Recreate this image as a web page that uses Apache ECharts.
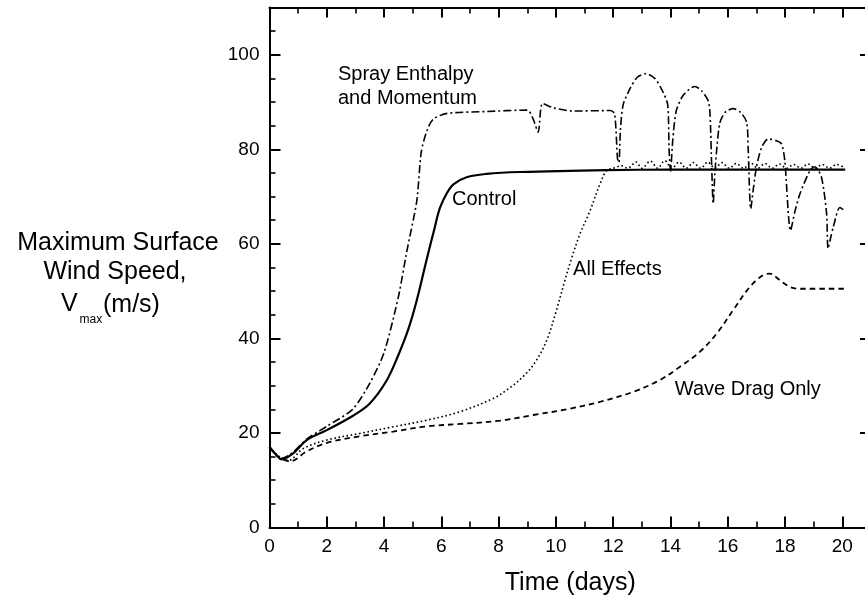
<!DOCTYPE html>
<html>
<head>
<meta charset="utf-8">
<script src="https://cdn.jsdelivr.net/npm/echarts@6/dist/echarts.min.js"></script>
<style>html,body{margin:0;padding:0;background:#fff}#c{width:865px;height:600px}</style>
</head>
<body>
<div id="c"></div>
<script>
// Data: [time (days), Vmax (m/s)]
const controlData = [[0,17.1],[0.2,15.6],[0.43,14.4],[0.83,15.7],[1.3,18.5],[2,20.6],[2.93,23.7],[3.51,26.3],[4.09,31.1],[4.5,36.5],[4.85,42],[5.14,48],[5.5,57],[5.75,63],[5.95,67.6],[6.2,70.8],[6.42,72.6],[6.88,74.1],[7.58,74.8],[8.74,75.2],[11.77,75.6],[14,75.7],[20.1,75.7]];
const sprayData = [[0,17],[0.4,14.6],[0.8,15.8],[1.3,18.7],[2,21.4],[2.9,25],[3.5,30.5],[4,37],[4.5,48.8],[4.8,58.6],[5.14,69],[5.3,79.5],[5.5,84],[5.72,86.4],[6.2,87.6],[7.6,88],[9,88.3],[9.2,86.5],[9.38,83.6],[9.53,89.7],[9.9,88.8],[10.6,88.1],[11.9,88.2],[12.05,87.5],[12.15,78],[12.2,77.2],[12.25,84],[12.35,89.5],[12.6,93],[12.85,95.3],[13.14,96],[13.45,95],[13.7,92.6],[13.9,89.5],[13.95,80],[14.0,75.4],[14.08,82],[14.2,88.1],[14.45,91.5],[14.85,93.3],[15.1,92.3],[15.32,90.2],[15.38,87.5],[15.44,76],[15.49,68.5],[15.55,75],[15.62,80.4],[15.72,85.5],[15.9,87.8],[16.19,88.6],[16.45,87.8],[16.66,85.7],[16.71,80.4],[16.8,67.4],[16.9,72],[17.0,76.2],[17.18,80.4],[17.41,82.2],[17.7,81.8],[17.88,81.1],[17.99,77.6],[18.19,62.8],[18.35,67],[18.52,70.6],[18.87,75.5],[19.04,76.3],[19.27,74.1],[19.45,66.4],[19.5,59],[19.6,61.5],[19.68,63.5],[19.91,67.7],[20.09,67]];
const allEffectsData = [[0,17],[0.3,15.2],[0.66,14.2],[1.18,16.7],[2,18.5],[3.16,19.9],[4.32,21.3],[5.49,22.7],[6.65,24.5],[7.81,27.3],[8.4,29.6],[8.9,32.2],[9.3,35.2],[9.68,39.6],[10.02,46],[10.3,52],[10.55,57],[10.84,62.1],[11.19,67],[11.54,72.7],[11.77,75.5],[12,76],[12.3,76.5],[12.5,76],[12.8,77.3],[13.0,76],[13.3,77.5],[13.55,76],[13.8,77.6],[14.05,76],[14.3,77.3],[14.55,76],[14.8,77.2],[15.05,76],[15.3,77.3],[15.55,76],[15.8,77.2],[16.05,76],[16.3,77],[16.55,76],[16.8,77.1],[17.05,76],[17.3,77],[17.55,76],[17.8,76.9],[18.05,76],[18.3,76.8],[18.55,76],[18.8,76.9],[19.05,76],[19.3,76.8],[19.55,76],[19.8,76.8],[20.05,76.2]];
const waveDragData = [[0,17],[0.3,15],[0.72,14],[1.3,16.1],[2,17.9],[3.16,19.3],[4.32,20.3],[5.49,21.4],[6.65,21.9],[8.05,22.6],[9.21,23.8],[10.37,25],[11.54,26.6],[12.7,28.7],[13.63,31.2],[14.33,34],[15.03,37.2],[15.61,41],[16.19,46],[16.77,50.9],[17.23,53.4],[17.47,53.7],[17.82,52.3],[18.17,50.9],[18.52,50.5],[20.1,50.5]];
// Curve annotations: [x, y, text] in data coordinates (left edge, vertical middle)
const annotations = [[2.39,93.3,'Spray Enthalpy\nand Momentum'],[6.37,69.3,'Control'],[10.6,54.5,'All Effects'],[14.15,29.2,'Wave Drag Only']];
const xMin = 0, xMax = 21, xStep = 2;
const yMin = 0, yMax = 110, yStep = 20;
const xTitle = 'Time (days)';
const yTitleLines = ['Maximum Surface', 'Wind Speed,'];

const FONT = 'Liberation Sans, Arial, sans-serif';
const chart = echarts.init(document.getElementById('c'), null, {renderer: 'canvas'});
function axisCommon(showLabel, tickLen, minorLen, minorSplit) {
  return {
    type: 'value',
    axisLine: {show: true, onZero: false, lineStyle: {color: '#000', width: 2}},
    axisTick: {show: true, inside: true, length: tickLen, lineStyle: {color: '#000', width: 2}},
    minorTick: {show: true, splitNumber: minorSplit, length: minorLen, lineStyle: {color: '#000', width: 1.6}},
    splitLine: {show: false},
    axisLabel: {show: showLabel, color: '#000', fontSize: 19, fontFamily: FONT, margin: 10, showMaxLabel: false}
  };
}
const option = {
  animation: false,
  backgroundColor: '#fff',
  grid: {left: 269.5, top: 7.5, width: 601.5, bottom: 72.5, containLabel: false, outerBoundsMode: 'none'},
  xAxis: [
    Object.assign(axisCommon(true, 11, 6, 2), {position: 'bottom', min: xMin, max: xMax, interval: xStep,
      name: xTitle, nameLocation: 'middle', nameGap: 43,
      nameTextStyle: {color: '#000', fontSize: 25, fontFamily: FONT}}),
    Object.assign(axisCommon(false, 10, 6, 2), {position: 'top', min: xMin, max: xMax, interval: xStep})
  ],
  yAxis: [
    Object.assign(axisCommon(true, 11, 6, 4), {position: 'left', min: yMin, max: yMax, interval: yStep}),
    Object.assign(axisCommon(false, 11, 6, 4), {position: 'right', min: yMin, max: yMax, interval: yStep})
  ],
  graphic: [
    {type: 'text', x: 118, y: 243.5, style: {text: yTitleLines[0], font: '25px ' + FONT, fill: '#000', align: 'center', verticalAlign: 'middle'}},
    {type: 'text', x: 115, y: 272, style: {text: yTitleLines[1], font: '25px ' + FONT, fill: '#000', align: 'center', verticalAlign: 'middle'}},
    {type: 'text', x: 61, y: 304.5, style: {text: 'V', font: '25px ' + FONT, fill: '#000', align: 'left', verticalAlign: 'middle'}},
    {type: 'text', x: 79.5, y: 319.5, style: {text: 'max', font: '12px ' + FONT, fill: '#000', align: 'left', verticalAlign: 'middle'}},
    {type: 'text', x: 103, y: 305, style: {text: '(m/s)', font: '25px ' + FONT, fill: '#000', align: 'left', verticalAlign: 'middle'}}
  ],
  series: [
    {type: 'line', name: 'Control', data: controlData, showSymbol: false, smooth: 0.35, lineStyle: {color: '#000', width: 2.2, type: 'solid'}, z: 5},
    {type: 'line', name: 'Spray Enthalpy and Momentum', data: sprayData, showSymbol: false, smooth: 0.25, lineStyle: {color: '#000', width: 1.6, type: [8, 3, 2, 3]}},
    {type: 'line', name: 'All Effects', data: allEffectsData, showSymbol: false, smooth: 0.35, lineStyle: {color: '#000', width: 1.6, type: [1.6, 2.6]}},
    {type: 'line', name: 'Wave Drag Only', data: waveDragData, showSymbol: false, smooth: 0.35, lineStyle: {color: '#000', width: 1.8, type: [5.5, 4]}},
    {type: 'scatter', name: 'labels', data: annotations.map(a => ({value: [a[0], a[1]], name: a[2]})),
      symbolSize: 0, silent: true, itemStyle: {opacity: 1, color: '#000'},
      label: {show: true, position: 'right', distance: 0, formatter: p => p.name, color: '#000', fontSize: 20, fontFamily: FONT, lineHeight: 24.5, align: 'left'}}
  ]
};
chart.setOption(option);
</script>
</body>
</html>
